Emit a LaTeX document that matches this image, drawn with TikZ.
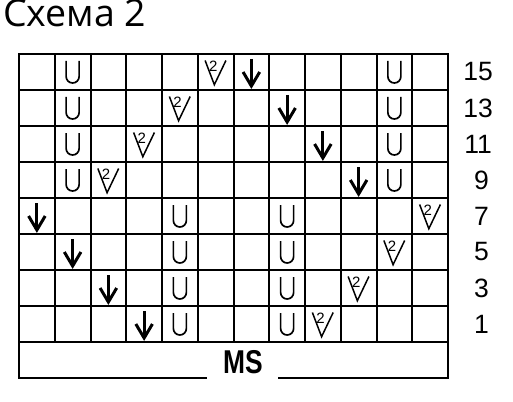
\documentclass[tikz,border=0pt]{standalone}
\usepackage{fontspec}
\newfontfamily\titlefont{Open Sans}
\newfontfamily\arialfont{Liberation Sans}
\begin{document}
\begin{tikzpicture}[x=1pt,y=-1pt,
  cell/.style={draw,line width=2pt,minimum width=35.75pt,minimum height=36pt,inner sep=0pt,outer sep=0pt},
  rowlabel/.style={font=\arialfont\fontsize{26.5}{26.5}\selectfont,inner sep=0pt},
  usym/.pic={\draw[line width=1.7pt] (-6.5,-11) -- (-6.5,4.5) arc[start angle=180,end angle=0,radius=6.5] -- (6.5,-11);},
  arrsym/.pic={\draw[line width=3pt] (0,-13) -- (0,13);
               \draw[line width=3pt,line join=miter] (-8.3,0) -- (0,14) -- (8.3,0);},
  vsym/.pic={\draw[line width=1.5pt] (-10.5,-11.5) -- (-1.3,12.7) -- (10.3,-11.5);
             \node[inner sep=0pt,font=\arialfont\fontsize{15}{15}\selectfont] at (-2.3,-5.3) {2};}
]
\useasboundingbox (0,0) rectangle (513,401);
% title
\node[anchor=base west,inner sep=0pt,font=\titlefont\fontsize{37.5}{37.5}\selectfont] (title) at (3,27) {Схема 2};
% grid cells
\foreach \r in {1,...,8}{
  \foreach \c in {1,...,12}{
    \node[cell] (c-\r-\c) at ({19+35.75*(\c-0.5)},{54+36*(\r-0.5)}) {};
  }
}
% symbols
\foreach \r/\c in {1/2,1/11,2/2,2/11,3/2,3/11,4/2,4/11,5/5,5/8,6/5,6/8,7/5,7/8,8/5,8/8}
  \pic at (c-\r-\c) {usym};
\foreach \r/\c in {1/6,2/5,3/4,4/3,5/12,6/11,7/10,8/9}
  \pic at (c-\r-\c) {vsym};
\foreach \r/\c in {1/7,2/8,3/9,4/10,5/1,6/2,7/3,8/4}
  \pic at (c-\r-\c) {arrsym};
% row labels
\foreach \r/\t in {1/15,2/13,3/11}
  \node[rowlabel] (lab-\t) at (478,{54+36*(\r-0.5)}) {\t};
\foreach \r/\t in {4/9,5/7,6/5,7/3,8/1}
  \node[rowlabel] (lab-\t) at (481.5,{54+36*(\r-0.5)}) {\t};
% MS row
\node[anchor=base,inner sep=0pt,font=\arialfont\bfseries\fontsize{33}{33}\selectfont,xscale=0.8] (ms) at (243,373) {MS};
\coordinate (msbl) at (19,378);
\coordinate (msl) at (206.7,378);
\coordinate (msr) at (278,378);
\coordinate (msbr) at (448,378);
\draw[line width=2pt] (c-8-1.south west) -- (msbl) -- (msl);
\draw[line width=2pt] (msr) -- (msbr) -- (c-8-12.south east);
\end{tikzpicture}
\end{document}
